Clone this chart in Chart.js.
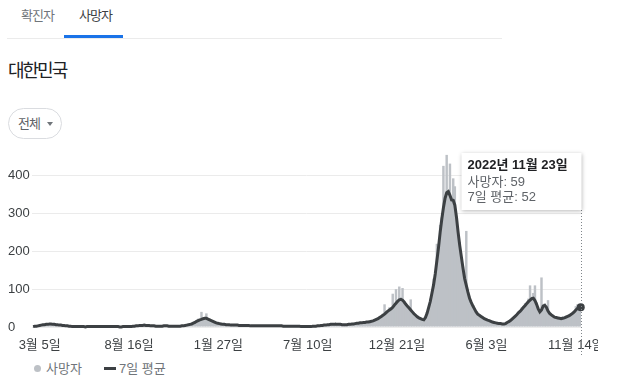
<!DOCTYPE html>
<html lang="ko">
<head>
<meta charset="utf-8">
<title>대한민국 사망자</title>
<script src="https://cdn.jsdelivr.net/npm/chart.js@4.4.0/dist/chart.umd.min.js"></script>
<style>
  body {
    margin: 0;
    width: 619px;
    height: 387px;
    position: relative;
    overflow: hidden;
    background: #fff;
    font-family: "Liberation Sans", Arial, "Noto Sans CJK KR", sans-serif;
  }
  .tab { position: absolute; top: 7px; font-size: 13px; line-height: 17px; color: #70757a; letter-spacing: -1px; }
  .tab.active { color: #3c4043; }
  .tab-bar { position: absolute; left: 64px; top: 35px; width: 59px; height: 3px; background: #1a73e8; }
  .divider { position: absolute; left: 7px; top: 38px; width: 495px; height: 1px; background: #ebebeb; }
  .title { position: absolute; left: 8px; top: 60px; font-size: 18px; line-height: 22px; color: #202124; letter-spacing: -2px; }
  .pill {
    position: absolute; left: 8px; top: 108px; width: 52px; height: 29px;
    border: 1px solid #dadce0; border-radius: 16px;
  }
  .pill span { position: absolute; left: 9px; top: 6px; font-size: 13px; line-height: 17px; color: #5f6368; letter-spacing: -1px; }
  .pill i {
    position: absolute; left: 38px; top: 13px; width: 0; height: 0;
    border-left: 3px solid transparent; border-right: 3px solid transparent; border-top: 4px solid #70757a;
  }
  #chartBox { position: absolute; left: 0; top: 140px; width: 598px; height: 220px; }
  .legend { position: absolute; top: 360px; font-size: 13px; line-height: 17px; color: #70757a; }
  .dot { position: absolute; left: 34px; top: 365px; width: 7px; height: 7px; border-radius: 50%; background: #bdc1c6; }
  .dash { position: absolute; left: 104px; top: 367px; width: 12px; height: 3px; background: #3c4043; }
</style>
</head>
<body>
  <div class="tab" style="left:21px">확진자</div>
  <div class="tab active" style="left:79px">사망자</div>
  <div class="divider"></div>
  <div class="tab-bar"></div>
  <div class="title">대한민국</div>
  <div class="pill"><span>전체</span><i></i></div>

  <div id="chartBox"><canvas id="deathChart" width="598" height="220"></canvas></div>

  <div class="dot"></div>
  <div class="legend" style="left:46px">사망자</div>
  <div class="dash"></div>
  <div class="legend" style="left:119px">7일 평균</div>

<script>
// 날짜: 0일 = 2020년 2월 20일, 3일 간격으로 읽은 값 (첫 값 = 2일째, 마지막 = 2022년 11월 23일)
const firstDay = 2;
const dayStep = 3;

// 일일 사망자
const deaths = [
  1, 1, 3, 2, 5, 4, 8, 5, 9, 6,
  9, 7, 8, 5, 7, 4, 6, 3, 5, 3,
  4, 2, 2, 1, 2, 0, 1, 2, 0, 1,
  0, 1, 0, 2, 1, 0, 1, 1, 2, 0,
  1, 0, 2, 1, 0, 1, 2, 1, 0, 1,
  1, 2, 0, 0, 1, 0, 2, 1, 0, 1,
  0, 2, 3, 2, 4, 5, 3, 5, 6, 3,
  5, 3, 4, 2, 3, 1, 3, 2, 1, 3,
  2, 4, 3, 1, 3, 2, 1, 3, 2, 2,
  3, 2, 4, 5, 4, 7, 6, 10, 9, 14,
  13, 22, 17, 40, 22, 26, 36, 19, 22, 15,
  17, 12, 14, 9, 10, 7, 8, 6, 7, 5,
  7, 4, 6, 5, 3, 6, 4, 5, 3, 4,
  3, 5, 4, 2, 4, 3, 2, 4, 3, 2,
  2, 4, 3, 3, 2, 4, 3, 2, 3, 4,
  3, 2, 4, 2, 1, 3, 2, 2, 1, 3,
  2, 1, 3, 2, 1, 0, 2, 1, 1, 0,
  1, 2, 1, 3, 3, 4, 3, 5, 4, 6,
  7, 5, 8, 6, 9, 7, 8, 6, 7, 5,
  5, 7, 6, 8, 6, 9, 7, 10, 9, 11,
  12, 10, 14, 11, 15, 12, 17, 14, 19, 21,
  22, 20, 28, 26, 35, 60, 43, 40, 52, 47,
  88, 56, 100, 70, 107, 78, 103, 64, 58, 52,
  48, 73, 38, 37, 29, 30, 22, 24, 18, 21,
  27, 40, 48, 75, 85, 128, 136, 220, 205, 270,
  290, 426, 330, 455, 360, 432, 340, 393, 372, 270,
  240, 225, 170, 160, 120, 254, 85, 80, 60, 58,
  50, 38, 36, 28, 30, 23, 24, 18, 20, 15,
  16, 12, 13, 9, 11, 8, 10, 7, 9, 8,
  13, 15, 16, 24, 23, 31, 35, 40, 45, 52,
  55, 63, 60, 75, 110, 80, 90, 110, 65, 50,
  35, 131, 60, 62, 55, 71, 38, 35, 30, 28,
  27, 22, 25, 20, 28, 22, 30, 27, 33, 35,
  40, 38, 55, 60, 48, 59
];

// 7일 평균
const avg7 = [
  1, 2, 2, 3, 4, 5, 6, 6, 7, 7,
  8, 8, 7, 7, 6, 6, 5, 5, 4, 4,
  3, 3, 2, 2, 1, 1, 1, 1, 1, 1,
  1, 1, 0, 1, 1, 1, 1, 1, 1, 1,
  1, 1, 1, 1, 1, 1, 1, 1, 1, 1,
  1, 1, 1, 0, 0, 1, 1, 1, 1, 1,
  1, 2, 2, 3, 3, 4, 4, 4, 5, 4,
  4, 4, 3, 3, 3, 2, 2, 2, 2, 2,
  3, 3, 3, 2, 2, 2, 2, 2, 2, 2,
  2, 3, 3, 4, 5, 6, 7, 8, 10, 12,
  15, 17, 19, 20, 22, 23, 23, 21, 19, 17,
  15, 13, 11, 10, 9, 8, 7, 7, 6, 6,
  6, 5, 5, 5, 5, 5, 4, 4, 4, 4,
  4, 4, 4, 3, 3, 3, 3, 3, 3, 3,
  3, 3, 3, 3, 3, 3, 3, 3, 3, 3,
  3, 3, 3, 2, 2, 2, 2, 2, 2, 2,
  2, 2, 2, 2, 1, 1, 1, 1, 1, 1,
  1, 2, 2, 2, 3, 3, 4, 4, 5, 5,
  6, 6, 7, 7, 7, 8, 7, 7, 7, 6,
  6, 6, 6, 7, 7, 8, 8, 9, 10, 10,
  11, 11, 12, 12, 13, 13, 14, 15, 16, 18,
  20, 22, 25, 28, 31, 34, 38, 42, 45, 48,
  52, 58, 63, 68, 72, 73, 71, 66, 60, 55,
  50, 45, 40, 35, 31, 27, 24, 22, 20, 19,
  25, 36, 52, 68, 90, 112, 140, 175, 210, 250,
  285, 315, 340, 355, 358, 348, 336, 335, 322, 290,
  250, 215, 185, 155, 128, 110, 92, 76, 65, 56,
  48, 40, 34, 31, 28, 25, 22, 20, 18, 17,
  15, 13, 12, 11, 10, 9, 9, 8, 8, 9,
  12, 14, 17, 21, 25, 29, 33, 38, 42, 47,
  52, 57, 62, 67, 71, 75, 76, 70, 60, 48,
  40, 45, 55, 57, 52, 42, 36, 32, 29, 26,
  25, 24, 23, 22, 23, 24, 26, 28, 30, 33,
  36, 40, 45, 49, 51, 52
];

// x축 눈금 (164일 간격)
const tickDays = [14, 178, 342, 506, 670, 834, 998];
const tickLabels = ['3월 5일', '8월 16일', '1월 27일', '7월 10일', '12월 21일', '6월 3일', '11월 14일'];
const yTicks = [0, 100, 200, 300, 400];
const lastDateLabel = '2022년 11월 23일';

const FONT = '"Liberation Sans", Arial, "Noto Sans CJK KR", sans-serif';
const lastIndex = deaths.length - 1;
const lastDay = firstDay + dayStep * lastIndex;

const toPoints = arr => arr.map((v, i) => ({ x: firstDay + dayStep * i, y: v }));

// 고정 툴팁 (마지막 날짜)
const fixedTooltip = {
  id: 'fixedTooltip',
  afterDraw(chart) {
    const ctx = chart.ctx;
    const x = Math.round(chart.scales.x.getPixelForValue(lastDay)) + 0.5;
    const boxW = 120, boxH = 57, boxTop = 13;

    ctx.save();
    ctx.strokeStyle = '#80868b';
    ctx.lineWidth = 1;
    ctx.setLineDash([1, 2]);
    ctx.beginPath();
    ctx.moveTo(x, boxTop + boxH);
    ctx.lineTo(x, 216);
    ctx.stroke();
    ctx.setLineDash([]);

    ctx.shadowColor = 'rgba(0,0,0,0.28)';
    ctx.shadowBlur = 4;
    ctx.shadowOffsetY = 1;
    ctx.fillStyle = '#fff';
    ctx.fillRect(x - boxW, boxTop, boxW, boxH);
    ctx.shadowColor = 'transparent';

    ctx.textBaseline = 'middle';
    ctx.textAlign = 'left';
    ctx.fillStyle = '#202124';
    ctx.font = 'bold 13px ' + FONT;
    ctx.fillText(lastDateLabel, x - boxW + 6, boxTop + 12);
    ctx.fillStyle = '#5f6368';
    ctx.font = '13px ' + FONT;
    ctx.fillText('사망자: ' + deaths[lastIndex], x - boxW + 6, boxTop + 29);
    ctx.fillText('7일 평균: ' + avg7[lastIndex], x - boxW + 6, boxTop + 44);
    ctx.restore();
  }
};

new Chart(document.getElementById('deathChart'), {
  type: 'bar',
  data: {
    datasets: [
      {
        type: 'line',
        label: '7일 평균',
        data: toPoints(avg7),
        borderColor: '#3c4043',
        backgroundColor: '#3c4043',
        borderWidth: 3,
        tension: 0,
        pointRadius: ctx => (ctx.dataIndex === lastIndex ? 4 : 0),
        pointBorderWidth: 0,
        clip: 8,
        order: 0
      },
      {
        label: '사망자',
        data: toPoints(deaths),
        backgroundColor: '#bdc1c6',
        borderWidth: 0,
        barPercentage: 1.5,
        categoryPercentage: 1,
        order: 1
      }
    ]
  },
  options: {
    responsive: false,
    animation: false,
    events: [],
    layout: { padding: { left: 8, right: 17, top: 13, bottom: 0 } },
    plugins: {
      legend: { display: false },
      tooltip: { enabled: false }
    },
    scales: {
      x: {
        type: 'linear',
        offset: false,
        min: 0,
        max: 1007.5,
        grid: { display: false },
        border: { display: false },
        afterBuildTicks: scale => { scale.ticks = tickDays.map(v => ({ value: v })); },
        afterFit: scale => { scale.height = 33; scale.paddingLeft = 0; scale.paddingRight = 0; },
        ticks: {
          autoSkip: false,
          maxRotation: 0,
          padding: 3,
          color: '#3c4043',
          font: { family: FONT, size: 13 },
          callback: (value, index) => tickLabels[index]
        }
      },
      y: {
        min: 0,
        max: 460,
        grid: { color: '#ebebeb', drawTicks: false },
        border: { display: false },
        afterBuildTicks: scale => { scale.ticks = yTicks.map(v => ({ value: v })); },
        afterFit: scale => { scale.width = 24; },
        ticks: {
          crossAlign: 'far',
          padding: 0,
          color: '#3c4043',
          font: { family: FONT, size: 13 }
        }
      }
    }
  },
  plugins: [fixedTooltip]
});
</script>
</body>
</html>
